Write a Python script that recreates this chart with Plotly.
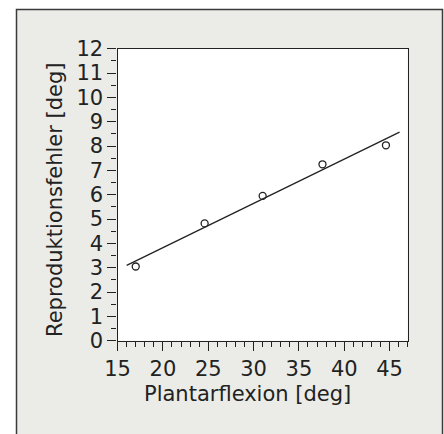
import numpy as np
import plotly.graph_objects as go

# Measured points: plantar flexion angle vs. reproduction error
plantarflexion = [17.0, 24.6, 31.0, 37.6, 44.6]
reproduction_error = [3.05, 4.82, 5.95, 7.25, 8.03]

# Extent of the drawn regression line along x
fit_x_span = [16.0, 46.1]

x_ticks = [15, 20, 25, 30, 35, 40, 45]
y_ticks = list(range(0, 13))

W, H = 444, 434

slope, intercept = np.polyfit(plantarflexion, reproduction_error, 1)
fit_y = [slope * x + intercept for x in fit_x_span]

ink = "#222222"
panel = "#ebece7"
font_family = "DejaVu Sans"

fig = go.Figure()

fig.add_trace(go.Scatter(
    x=fit_x_span, y=fit_y, mode="lines",
    line=dict(color=ink, width=1.3),
    hoverinfo="skip", showlegend=False,
))
fig.add_trace(go.Scatter(
    x=plantarflexion, y=reproduction_error, mode="markers",
    marker=dict(symbol="circle-open", size=7, color=ink, line=dict(width=1.3, color=ink)),
    showlegend=False,
))

# Pixel helpers for paper coordinates
def px(xp):
    return xp / W

def py(yp):
    return 1 - yp / H

x_dom = [px(117.6), px(407.7)]
y_dom = [py(340.7), py(48.7)]

axis_common = dict(
    automargin=False,
    showline=True, mirror=True, linecolor=ink, linewidth=1.4,
    ticks="outside", ticklen=9, tickwidth=1.3, tickcolor=ink,
    showgrid=False, zeroline=False,
    tickfont=dict(family=font_family, size=21, color=ink),
)

fig.update_layout(
    width=W, height=H,
    margin=dict(l=0, r=0, t=0, b=0, autoexpand=False),
    paper_bgcolor="white",
    plot_bgcolor="white",
    xaxis=dict(
        domain=x_dom, range=[15, 47],
        tickmode="array", tickvals=x_ticks,
        ticktext=[str(v) for v in x_ticks],
        minor=dict(dtick=1, tick0=15, ticks="outside", ticklen=5, tickwidth=1.1, tickcolor=ink),
        **axis_common,
    ),
    yaxis=dict(
        domain=y_dom, range=[0, 12],
        tickmode="array", tickvals=y_ticks,
        ticktext=[str(v) for v in y_ticks],
        minor=dict(dtick=0.5, tick0=0, ticks="outside", ticklen=5, tickwidth=1.1, tickcolor=ink),
        **axis_common,
    ),
    shapes=[
        # light grey panel behind the chart
        dict(type="rect", xref="paper", yref="paper",
             x0=px(16.5), x1=px(442.5), y0=-0.05, y1=py(9.5),
             fillcolor=panel, line=dict(color="#3a3a3a", width=1.5),
             layer="below"),
        # white plotting area on top of the panel
        dict(type="rect", xref="x domain", yref="y domain",
             x0=0, x1=1, y0=0, y1=1,
             fillcolor="white", line=dict(width=0), layer="below"),
    ],
    annotations=[
        dict(text="Plantarflexion [deg]", xref="paper", yref="paper",
             x=px(248), y=py(394), xanchor="center", yanchor="middle",
             showarrow=False, font=dict(family=font_family, size=21, color=ink)),
        dict(text="Reproduktionsfehler [deg]", xref="paper", yref="paper",
             x=px(55), y=py(200), xanchor="center", yanchor="middle",
             textangle=-90, showarrow=False,
             font=dict(family=font_family, size=21, color=ink)),
    ],
)

fig.write_html("out.html")
